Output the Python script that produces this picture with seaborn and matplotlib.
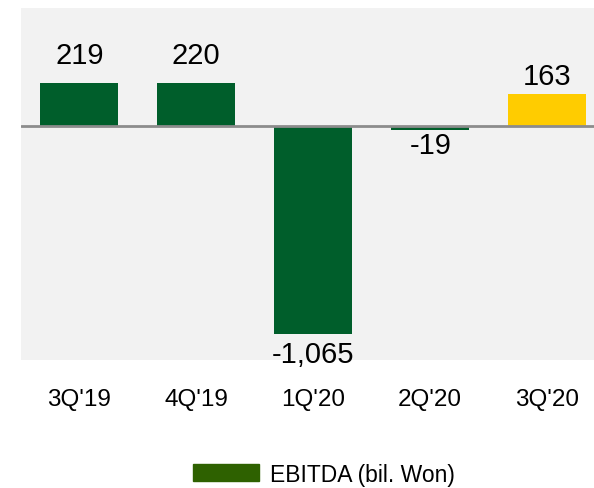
import matplotlib
matplotlib.use('Agg')
import matplotlib.pyplot as plt
from matplotlib.patches import Patch
import pandas as pd
import seaborn as sns

# data
quarters = ["3Q'19", "4Q'19", "1Q'20", "2Q'20", "3Q'20"]
ebitda = [219, 220, -1065, -19, 163]
labels = ['219', '220', '-1,065', '-19', '163']
bar_colors = ['#005E2B', '#005E2B', '#005E2B', '#005E2B', '#FFCC00']

sns.set_style('white')
plt.rcParams['font.family'] = ['Liberation Sans Narrow', 'Liberation Sans', 'DejaVu Sans']
plt.rcParams['text.color'] = 'black'

df = pd.DataFrame({'quarter': quarters, 'value': ebitda})

fig = plt.figure(figsize=(5.94, 4.89), dpi=100)
ax = fig.add_axes([0.035, 0.262, 0.965, 0.72])
ax.set_facecolor('#F2F2F2')

sns.barplot(data=df, x='quarter', y='value', hue='quarter', palette=bar_colors,
            width=0.67, legend=False, ax=ax, saturation=1, linewidth=0)

ax.axhline(0, color='#8C8C8C', lw=2, zorder=3)
ax.set_ylim(-1200, 605)
ax.set_xlim(-0.5, 4.4)

# value labels (offsets in points)
offsets = [10, 10, -5, -1, 3]
for i, (v, lab, off) in enumerate(zip(ebitda, labels, offsets)):
    va = 'bottom' if v >= 0 else 'top'
    ax.annotate(lab, (i, v), xytext=(0, off), textcoords='offset points',
                ha='center', va=va, fontsize=21, color='black',
                annotation_clip=False)

ax.set_xlabel('')
ax.set_ylabel('')
ax.set_yticks([])
ax.tick_params(axis='x', length=0, labelsize=17.5, pad=20, labelcolor='black')
for s in ax.spines.values():
    s.set_visible(False)

fig.legend(handles=[Patch(color='#2E6100', label='EBITDA (bil. Won)')],
           loc='center', bbox_to_anchor=(0.545, 0.028), frameon=False,
           fontsize=16.5, handlelength=2.9, handleheight=0.75, handletextpad=0.45)

fig.savefig('out.png', dpi=100)
